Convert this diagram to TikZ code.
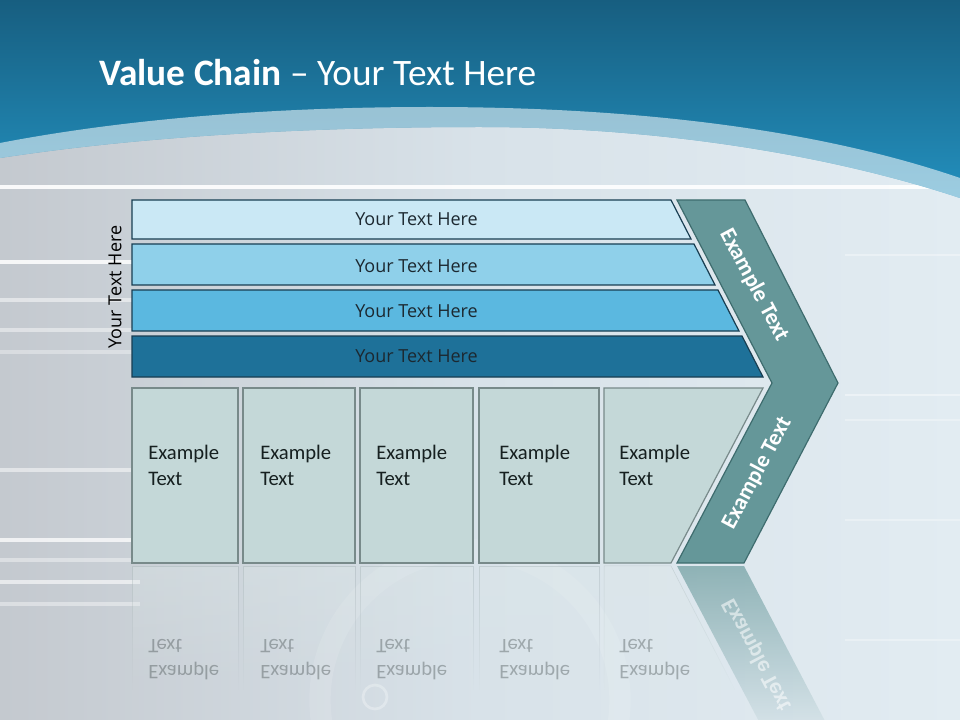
\documentclass[tikz,border=0pt]{standalone}
\usepackage{fontspec}
\setmainfont{Carlito}
\newfontfamily\barfont{Open Sans}
\usetikzlibrary{fadings}
\tikzfading[name=fadedown, top color=transparent!35, bottom color=transparent!100]

\begin{document}
\begin{tikzpicture}[x=0.75pt,y=0.75pt,yscale=-1,xscale=1,
	bartext/.style={inner sep=0.75pt,color={rgb, 255:red, 28; green, 40; blue, 48 },font=\barfont\fontsize{13.5}{16}\selectfont},
	boxtext/.style={anchor=west,align=left,inner sep=0.75pt,color={rgb, 255:red, 22; green, 32; blue, 32 },font=\fontsize{15.5}{19.5}\selectfont},
	chevtext/.style={inner sep=0.75pt,color=white,font=\bfseries\fontsize{17}{20}\selectfont},
	boxshape/.style={draw={rgb, 255:red, 120; green, 138; blue, 138 },fill={rgb, 255:red, 196; green, 216; blue, 216 },line width=0.9},
	barshape/.style={draw={rgb, 255:red, 24; green, 62; blue, 82 },line width=0.9},
	mirrorbox/.style={draw={rgb, 255:red, 120; green, 138; blue, 138 },fill={rgb, 255:red, 220; green, 232; blue, 232 },draw opacity=0.35,fill opacity=0.5,path fading=fadedown}
	]
\useasboundingbox (0,0) rectangle (960,720) ;
\clip (0,0) rectangle (960,720) ;

%Background
\shade [left color={rgb, 255:red, 196; green, 201; blue, 207 },right color={rgb, 255:red, 226; green, 236; blue, 242 },middle color={rgb, 255:red, 216; green, 226; blue, 233 }] (0,0) rectangle (960,720) ;
%Streaks
\foreach \yy/\op in {262/0.85,300/0.5,330/0.45,352/0.35,470/0.5,540/0.75,560/0.4,582/0.6,604/0.4}
	\draw [white,opacity=\op,line width=2.5] (0,\yy) -- (140,\yy) ;
\foreach \yy/\op in {255/0.35,395/0.4,420/0.3,520/0.3,640/0.3}
	\draw [white,opacity=\op,line width=2] (845,\yy) -- (960,\yy) ;
%Faint rings
\draw [white,opacity=0.12,line width=16] (470,700) circle (150) ;
\draw [white,opacity=0.3,line width=2] (375,697) circle (12) ;
\draw [white,opacity=0.9,line width=3] (0,187) -- (935,187) ;

%Top band
\shade [top color={rgb, 255:red, 23; green, 94; blue, 128 },bottom color={rgb, 255:red, 35; green, 144; blue, 190 }] (0,0) -- (960,0) -- (960,198) .. controls (830,155) and (660,127) .. (480,127) .. controls (320,127) and (150,135) .. (0,158) -- cycle ;
%Shape: Arc band
\fill [white,opacity=0.55] (0,143) .. controls (130,118) and (280,107) .. (430,107) .. controls (640,107) and (820,130) .. (960,178) -- (960,198) .. controls (830,155) and (660,127) .. (480,127) .. controls (320,127) and (150,135) .. (0,158) -- cycle ;

% Title
\draw (98,73) node (title) [anchor=west,inner sep=0.75pt,color=white,font=\fontsize{28}{32}\selectfont] {\textbf{Value Chain} -- Your Text Here};

%Bars
\draw [barshape,fill={rgb, 255:red, 202; green, 232; blue, 245 }] (132,200) -- (671,200) -- (691,239) -- (132,239) -- cycle ;
\draw [barshape,fill={rgb, 255:red, 143; green, 208; blue, 234 }] (132,244) -- (694,244) -- (715,285) -- (132,285) -- cycle ;
\draw [barshape,fill={rgb, 255:red, 91; green, 184; blue, 224 }] (132,290) -- (718,290) -- (739,331) -- (132,331) -- cycle ;
\draw [barshape,fill={rgb, 255:red, 30; green, 113; blue, 153 }] (132,336) -- (742,336) -- (763,377) -- (132,377) -- cycle ;
% Text Node
\draw (416.5,219) node (barA) [bartext] {Your Text Here};
\draw (416.5,266) node (barB) [bartext] {Your Text Here};
\draw (416.5,311) node (barC) [bartext] {Your Text Here};
\draw (416.5,356) node (barD) [bartext] {Your Text Here};
\draw (115,287) node (side) [bartext,color=black,rotate=90] {Your Text Here};

%Boxes
\draw [boxshape] (132,388) rectangle (238,563) ;
\draw [boxshape] (243,388) rectangle (355,563) ;
\draw [boxshape] (360,388) rectangle (473,563) ;
\draw [boxshape] (479,388) rectangle (599,563) ;
\draw [boxshape] (604,388) -- (763,388) -- (671,563) -- (604,563) -- cycle ;
% Text Node
\foreach \xx/\nm in {147/A,259/B,375/C,498/D,618/E}
	\draw (\xx,465) node (box\nm) [boxtext] {Example\\Text};

%Chevron
\draw [draw={rgb, 255:red, 62; green, 108; blue, 110 },fill={rgb, 255:red, 101; green, 151; blue, 153 },line width=0.9] (677,200) -- (745,200) -- (838,383) -- (744,563) -- (677,563) -- (772,383) -- cycle ;
% Text Node
\draw (754,285) node (chevA) [chevtext,rotate=-62] {Example Text};
\draw (757,473) node (chevB) [chevtext,rotate=62] {Example Text};

%Reflection
\draw [mirrorbox] (132,566) rectangle (238,690) ;
\draw [mirrorbox] (243,566) rectangle (355,690) ;
\draw [mirrorbox] (360,566) rectangle (473,690) ;
\draw [mirrorbox] (479,566) rectangle (599,690) ;
\draw [mirrorbox] (604,566) -- (671,566) -- (735,690) -- (604,690) -- cycle ;
\fill [color={rgb, 255:red, 101; green, 151; blue, 153 },path fading=fadedown] (677,566) -- (744,566) -- (838,746) -- (772,746) -- cycle ;
\foreach \xx/\nm in {147/A,259/B,375/C,498/D,618/E}
	\draw (\xx,660) node (mir\nm) [boxtext,transform shape,text opacity=0.3] {Example\\Text};
\draw (757,655) node (mirF) [chevtext,transform shape,rotate=62,text opacity=0.55] {Example Text};
\end{tikzpicture}
\end{document}
